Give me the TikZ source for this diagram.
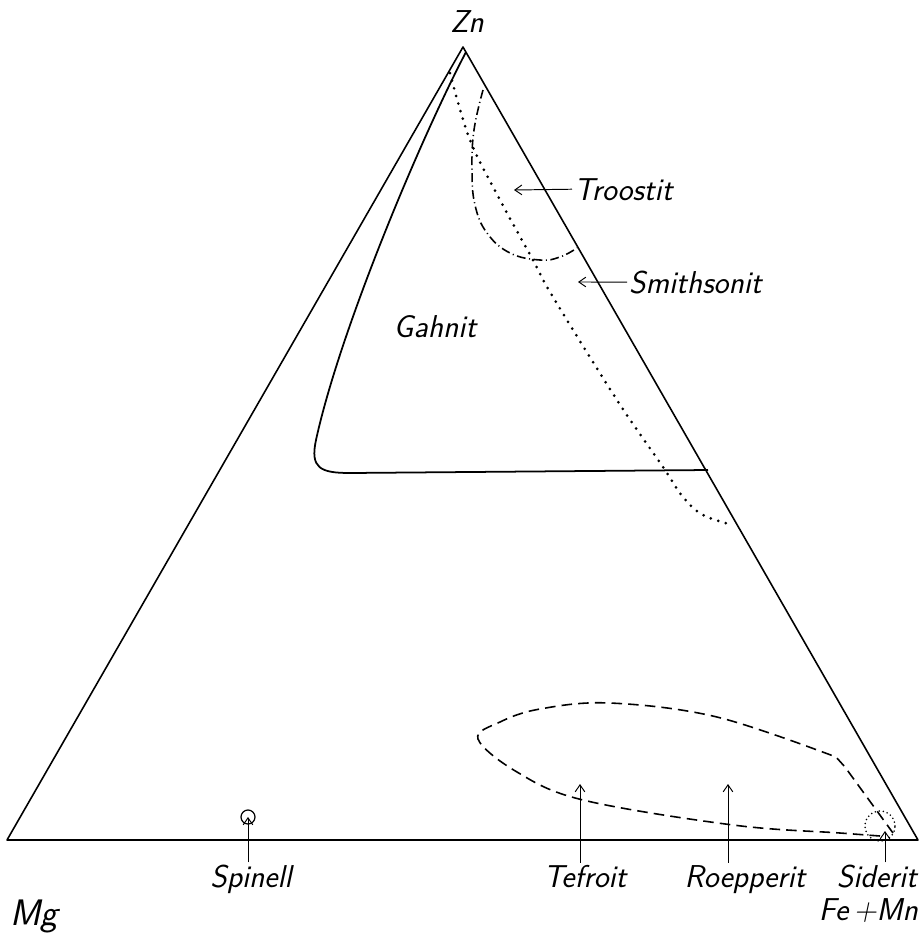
\documentclass[tikz,border=0pt]{standalone}
\usepackage{amsmath}
\usepackage{amssymb}
\usetikzlibrary{arrows.meta}

\begin{document}
\begin{tikzpicture}[x=0.02cm, y=-0.02cm,
  side/.style={line width=0.9pt, line join=round},
  lbl/.style={font=\sffamily\itshape\fontsize{18}{21}\selectfont, inner sep=1pt},
  pointer/.style={-{Straight Barb[length=4pt, width=5.5pt]}, line width=0.55pt},
  troost/.style={line width=0.9pt, dash pattern=on 5pt off 2pt on 0.6pt off 2pt},
  smith/.style={line width=1.7pt, line cap=round, dash pattern=on 0pt off 4.5pt},
  tefro/.style={line width=0.9pt, dash pattern=on 6pt off 3.5pt}]
\useasboundingbox (0,0) rectangle (924,938);
\coordinate (zn) at (463,47);
\coordinate (mg) at (7,840);
\coordinate (fe) at (918,840);
\draw[side] (mg) -- (zn) -- (fe) -- cycle;
\draw[side, line width=1pt] (466,52) .. controls (420,140) and (340,330) .. (316,440)
  .. controls (310,468) and (320,473) .. (350,473) -- (708,470);
\draw[smith] plot[smooth, tension=0.6] coordinates {(450,73) (470,140) (500,200) (533,260) (553,297) (617,400) (663,467) (683,497) (703,515) (733,525)};
\draw[troost] plot[smooth, tension=0.7] coordinates {(483,90) (474,130) (472,170) (475,205) (487,233) (510,253) (540,260) (560,257) (577,248)};
\draw[tefro] plot[smooth, tension=0.6] coordinates {(880,836) (840,833) (733,825) (583,800) (517,772) (478,739) (500,722) (540,709) (610,703) (717,717) (836,757)} -- (845,767) -- (893,833);
\node[lbl, anchor=base] (znl) at (467,32) {Zn};
\node[lbl, anchor=base west, font=\sffamily\itshape\fontsize{21}{24}\selectfont] (mgl) at (8,925) {Mg};
\node[lbl, anchor=base east] (fel) at (920,920) {Fe\,+Mn};
\node[lbl, anchor=base] (gahnit) at (435,337) {Gahnit};
\node[lbl, anchor=base west] (troostit) at (572,200) {Troostit};
\node[lbl, anchor=base west] (smithsonit) at (627,293) {Smithsonit};
\node[lbl, anchor=base] (spinell) at (251,887) {Spinell};
\node[lbl, anchor=base] (tefroit) at (585,887) {Tefroit};
\node[lbl, anchor=base] (roepperit) at (745,887) {Roepperit};
\node[lbl, anchor=base east] (siderit) at (919,887) {Siderit};
\coordinate (troostitpt) at (514,190);
\coordinate (smithsonitpt) at (578,282);
\coordinate (tefroitpt) at (580,784);
\coordinate (roepperitpt) at (728,784);
\coordinate (sideritpt) at (885,831);
\node[circle, draw, line width=0.7pt, minimum size=0.28cm, inner sep=0pt] (spinellpt) at (248,817) {};
\node[circle, draw, line width=1pt, line cap=round, dash pattern=on 0pt off 2.3pt, minimum size=0.6cm, inner sep=0pt] (sideritring) at (880,826) {};
\draw[pointer] (troostit.west) -- (troostitpt);
\draw[pointer] (smithsonit.west) -- (smithsonitpt);
\draw[pointer] (spinellpt |- spinell.north) -- (spinellpt.center);
\draw[pointer] (tefroitpt |- tefroit.north) -- (tefroitpt);
\draw[pointer] (roepperitpt |- roepperit.north) -- (roepperitpt);
\draw[pointer] (sideritpt |- siderit.north) -- (sideritpt);
\end{tikzpicture}
\end{document}
